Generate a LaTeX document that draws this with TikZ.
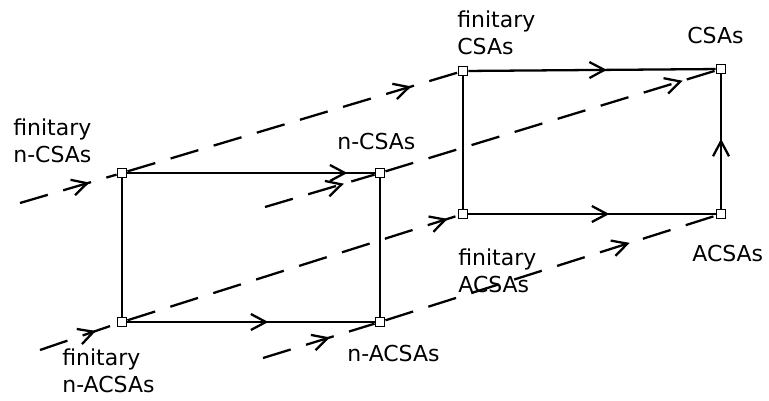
\documentclass[tikz,border=0pt]{standalone}
\usepackage{fontspec}
\setsansfont{DejaVu Sans}
\usetikzlibrary{arrows.meta,decorations.markings}

\begin{document}
\begin{tikzpicture}[x=0.2mm,y=-0.2mm,
  corner/.style={draw,fill=white,line width=1.1pt,minimum size=1.8mm,inner sep=0pt},
  lbl/.style={anchor=north west,inner sep=0pt,align=left,font=\sffamily\fontsize{12.5}{15.4}\selectfont},
  map/.style={line width=1.3pt},
  lift/.style={line width=1.3pt,dash pattern=on 5.8mm off 3.2mm},
  midtip/.style={postaction={decorate},decoration={markings,
    mark=at position #1 with {\arrow{Straight Barb[length=3mm,width=3.2mm]}}}},
]
\useasboundingbox (0,0) rectangle (769,400);

% corners of the two squares
\node[corner] (fnc) at (122,173) {};
\node[corner] (nc)  at (380,173) {};
\node[corner] (fna) at (122,322) {};
\node[corner] (na)  at (380,322) {};
\node[corner] (fc)  at (463,71) {};
\node[corner] (c)   at (721,69) {};
\node[corner] (fa)  at (463,214) {};
\node[corner] (a)   at (721,214) {};

% loose ends of the dashed lines
\coordinate (in1) at (20,203);
\coordinate (in2) at (40,350);
\coordinate (in3) at (265,207);
\coordinate (in4) at (263,358);

% labels
\node[lbl] (lfnc) at (13,118) {finitary\\n-CSAs};
\node[lbl] (lnc)  at (337,133) {n-CSAs};
\node[lbl] (lfc)  at (457,10) {finitary\\CSAs};
\node[lbl] (lc)   at (687,27) {CSAs};
\node[lbl] (lfa)  at (458,248) {finitary\\ACSAs};
\node[lbl] (la)   at (692,245) {ACSAs};
\node[lbl] (lna)  at (347,345) {n-ACSAs};
\node[lbl] (lfna) at (62,348) {finitary\\n-ACSAs};

% dashed lines
\draw[lift,midtip=0.72] (in1) -- (fnc);
\draw[lift,midtip=0.73] (in2) -- (fna);
\draw[lift,midtip=0.72] (in3) -- (nc);
\draw[lift,midtip=0.6]  (in4) -- (na);
\draw[lift,midtip=0.86] (fnc) -- (fc);
\draw[lift,midtip=0.9]  (nc) -- (c);
\draw[lift,midtip=0.97] (fna) -- (fa);
\draw[lift,midtip=0.74] (na) -- (a);

% solid edges
\draw[map,midtip=0.89] (fnc) -- (nc);
\draw[map,midtip=0.57] (fna) -- (na);
\draw[map] (fnc) -- (fna);
\draw[map] (nc) -- (na);
\draw[map,midtip=0.56] (fc) -- (c);
\draw[map,midtip=0.57] (fa) -- (a);
\draw[map] (fc) -- (fa);
\draw[map,midtip=0.52] (a) -- (c);
\end{tikzpicture}
\end{document}
